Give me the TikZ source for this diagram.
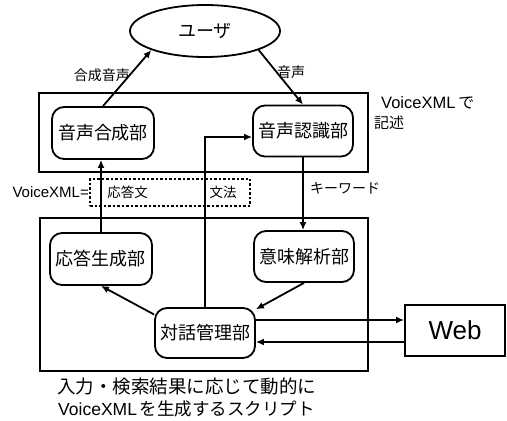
\documentclass[tikz,border=0pt]{standalone}
\usepackage{fontspec}
\setmainfont{Noto Sans CJK JP}
\newfontfamily\lat{Liberation Sans}
\usetikzlibrary{arrows.meta,shapes.geometric}
\begin{document}
\begin{tikzpicture}[x=1pt,y=-1pt,
  frame/.style={draw,line width=1.8pt,inner sep=0pt},
  unit/.style={draw,line width=1.8pt,rounded corners=12pt,inner sep=0pt,
    minimum width=100pt,minimum height=51pt,font=\fontsize{18}{20}\selectfont},
  arr/.style={line width=1.8pt,-{Latex[length=8pt,width=7pt]}},
  lbl/.style={inner sep=0pt,font=\fontsize{14}{16}\selectfont},
  big/.style={inner sep=0pt,anchor=west},
]
\useasboundingbox (0,0) rectangle (507,421);

% frames
\node[frame,minimum width=329pt,minimum height=79pt] (upper) at (203.5,132.5) {};
\node[frame,minimum width=328pt,minimum height=153pt] (lower) at (204,294.5) {};

% user
\node[draw,line width=1.8pt,ellipse,minimum width=150pt,minimum height=52pt,
  inner sep=0pt,font=\fontsize{18}{20}\selectfont] (user) at (205,31) {ユーザ};

% units
\node[unit,minimum width=102pt,minimum height=52pt] (synth) at (103,133) {音声合成部};
\node[unit] (recog) at (303,131) {音声認識部};
\node[unit,minimum width=102pt,minimum height=52pt] (resp) at (101,259) {応答生成部};
\node[unit] (sem) at (304,256.5) {意味解析部};
\node[unit,minimum height=50pt] (dlg) at (205,333) {対話管理部};
\node[frame,minimum width=100pt,minimum height=51pt,font=\lat\fontsize{26}{28}\selectfont] (web) at (455,330.5) {Web};

% dashed VoiceXML box
\node[draw,line width=2pt,dash pattern=on 2.5pt off 2pt,minimum width=160pt,minimum height=27pt,inner sep=0pt] (vxml) at (170,192) {};
\node[lbl,font=\fontsize{13.5}{15}\selectfont] (ans) at (127.5,192) {応答文};
\node[lbl,font=\fontsize{13.5}{15}\selectfont] (gram) at (223,192) {文法};
\node[inner sep=0pt,anchor=east,font=\lat\fontsize{15}{17}\selectfont] (vxlabel) at (89,192) {VoiceXML=};

% connectors
\draw[arr] (synth.north) -- (user.south west);
\draw[arr] (user.south east) -- (recog.north);
\draw[arr] (resp.north) -- (resp.north |- synth.south);
\draw[arr] (dlg.north) |- ([yshift=-6pt]recog.west);
\draw[arr] (recog.south) -- (recog.south |- sem.north);
\draw[arr] (dlg.160) -- (resp.south);
\draw[arr] (sem.south) -- (dlg.25);
\draw[arr] ([yshift=13pt]dlg.east) -- ([yshift=10.5pt]web.west);
\draw[arr] ([yshift=-11.5pt]web.west) -- ([yshift=-9pt]dlg.east);

% labels
\node[lbl] (l1) at (102,75) {合成音声};
\node[lbl] (l2) at (291,72) {音声};
\node[lbl] (l3) at (345,188) {キーワード};
\node[big] (vd1) at (381,103) {{\lat\fontsize{16.5}{19}\selectfont VoiceXML}\hspace{3pt}{\fontsize{16}{18}\selectfont で}};
\node[big,font=\fontsize{15}{17}\selectfont] (vd2) at (374,123) {記述};
\node[big,font=\fontsize{18.5}{20}\selectfont] (b1) at (57,386) {入力・検索結果に応じて動的に};
\node[big,font=\fontsize{17.5}{20}\selectfont] (b2) at (58,409) {{\lat VoiceXML}\hspace{3pt}を生成するスクリプト};
\end{tikzpicture}
\end{document}
